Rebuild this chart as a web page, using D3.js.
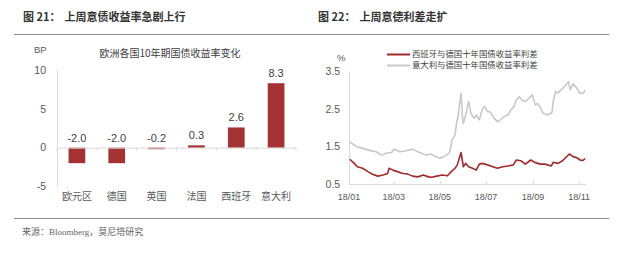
<!DOCTYPE html>
<html>
<head>
<meta charset="utf-8">
<script src="https://d3js.org/d3.v7.min.js"></script>
<style>
  body { margin: 0; background: #fff; }
  svg { display: block; }
  text { font-family: "Liberation Sans", "Noto Sans CJK SC", sans-serif; }
  .cjk { font-family: "Noto Sans CJK SC", sans-serif; }
</style>
</head>
<body>
<svg id="chart" width="620" height="260"></svg>
<script>
// Fig 21: weekly change of 10y yields (bp)
const countries = ['欧元区', '德国', '英国', '法国', '西班牙', '意大利'];
const changes = [-2.0, -2.0, -0.2, 0.3, 2.6, 8.3];
const barTicks = [-5, 0, 5, 10];

// Fig 22: spreads vs Germany (%)
const itDates = ['2018-01-02','2018-01-04','2018-01-11','2018-01-19','2018-01-29','2018-02-06','2018-02-13','2018-02-19','2018-02-26','2018-03-02','2018-03-09','2018-03-16','2018-03-26','2018-04-04','2018-04-13','2018-04-19','2018-04-26','2018-05-01','2018-05-04','2018-05-10','2018-05-14','2018-05-17','2018-05-21','2018-05-23','2018-05-25','2018-05-29','2018-05-31','2018-06-01','2018-06-04','2018-06-08','2018-06-11','2018-06-15','2018-06-18','2018-06-22','2018-06-26','2018-06-29','2018-07-03','2018-07-06','2018-07-12','2018-07-16','2018-07-20','2018-07-25','2018-07-30','2018-08-03','2018-08-07','2018-08-10','2018-08-14','2018-08-17','2018-08-22','2018-08-27','2018-08-31','2018-09-04','2018-09-07','2018-09-11','2018-09-14','2018-09-20','2018-09-26','2018-09-28','2018-10-01','2018-10-04','2018-10-08','2018-10-12','2018-10-18','2018-10-20','2018-10-24','2018-10-29','2018-11-02','2018-11-06','2018-11-09'];
const itValues = [1.63,1.59,1.50,1.45,1.39,1.36,1.27,1.32,1.34,1.43,1.36,1.38,1.43,1.34,1.27,1.30,1.23,1.19,1.21,1.27,1.34,1.67,1.81,2.12,2.30,2.92,2.25,2.12,2.34,2.70,2.39,2.25,2.34,2.21,2.48,2.57,2.43,2.43,2.25,2.16,2.21,2.30,2.34,2.48,2.57,2.74,2.83,2.74,2.70,2.79,2.88,2.61,2.65,2.52,2.39,2.34,2.40,2.74,2.97,2.92,3.01,3.08,3.23,3.01,3.17,3.05,2.92,2.92,3.00];
const esDates = ['2018-01-02','2018-01-08','2018-01-12','2018-01-19','2018-01-26','2018-02-01','2018-02-08','2018-02-15','2018-02-21','2018-02-23','2018-02-28','2018-03-06','2018-03-13','2018-03-19','2018-03-26','2018-04-02','2018-04-09','2018-04-16','2018-04-20','2018-04-27','2018-05-04','2018-05-11','2018-05-16','2018-05-21','2018-05-24','2018-05-29','2018-06-01','2018-06-04','2018-06-08','2018-06-13','2018-06-18','2018-06-22','2018-06-26','2018-07-03','2018-07-10','2018-07-16','2018-07-23','2018-07-30','2018-08-06','2018-08-10','2018-08-16','2018-08-22','2018-08-29','2018-09-04','2018-09-11','2018-09-17','2018-09-25','2018-09-28','2018-10-04','2018-10-10','2018-10-19','2018-10-24','2018-10-29','2018-11-02','2018-11-06','2018-11-09'];
const esValues = [1.16,1.05,0.96,0.92,0.83,0.76,0.71,0.74,0.78,0.92,0.87,0.83,0.78,0.77,0.71,0.69,0.74,0.69,0.68,0.71,0.74,0.72,0.83,0.92,1.01,1.34,0.96,1.05,0.96,0.92,0.87,1.03,1.05,1.01,0.96,0.92,0.96,0.98,1.01,1.14,1.12,1.03,1.14,1.07,1.03,1.03,0.98,1.08,1.05,1.12,1.30,1.23,1.20,1.14,1.13,1.18];
const spreadTicks = [0.5, 1.5, 2.5, 3.5];
const monthTicks = ['2018-01-01','2018-03-01','2018-05-01','2018-07-01','2018-09-01','2018-11-01'];
const legendNames = ['西班牙与德国十年国债收益率利差', '意大利与德国十年国债收益率利差'];

const svg = d3.select('#chart');
const parse = d3.timeParse('%Y-%m-%d');
const axisGrey = '#d9d9d9';
const labelGrey = '#595959';

// Headers and rules
svg.append('line').attr('x1', 14).attr('x2', 609).attr('y1', 34.5).attr('y2', 34.5)
  .attr('stroke', '#8c8c8c').attr('stroke-width', 1);
svg.append('line').attr('x1', 14).attr('x2', 609).attr('y1', 218.5).attr('y2', 218.5)
  .attr('stroke', '#8c8c8c').attr('stroke-width', 1);

[[23, '图 21：', '上周意债收益率急剧上行'], [318, '图 22：', '上周意德利差走扩']].forEach(h => {
  const t = svg.append('text').attr('class', 'cjk').attr('x', h[0]).attr('y', 21)
    .attr('font-size', 11).attr('font-weight', 700).attr('fill', '#333');
  t.append('tspan').text(h[1]);
  t.append('tspan').attr('dx', 4).text(h[2]);
});

svg.append('text').attr('x', 22).attr('y', 235).attr('font-size', 9).attr('fill', '#666')
  .style('font-family', '"Liberation Serif", "Noto Sans CJK SC", serif')
  .text('来源：Bloomberg，莫尼塔研究');

// ---- Left: bar chart ----
const y1 = d3.scaleLinear().domain([-5, 10]).range([186.5, 70]);
const x1 = d3.scaleBand().domain(countries).range([57, 296]).paddingInner(0.58).paddingOuter(0.29);

const g1 = svg.append('g');
g1.append('line').attr('x1', 57.5).attr('x2', 57.5).attr('y1', y1(10)).attr('y2', y1(-5))
  .attr('stroke', axisGrey);

g1.selectAll('.ytick').data(barTicks).join('text')
  .attr('x', 46).attr('y', d => y1(d)).attr('dy', '0.35em')
  .attr('text-anchor', 'end').attr('font-size', 10.5).attr('fill', labelGrey)
  .text(d => d);

g1.selectAll('rect').data(changes).join('rect')
  .attr('x', (d, i) => x1(countries[i]))
  .attr('width', x1.bandwidth())
  .attr('y', d => y1(Math.max(0, d)))
  .attr('height', d => Math.abs(y1(d) - y1(0)))
  .attr('fill', '#a33232');

g1.append('line').attr('x1', 57).attr('x2', 296).attr('y1', y1(0) + 0.5).attr('y2', y1(0) + 0.5)
  .attr('stroke', axisGrey);
g1.selectAll('.xtick').data(d3.range(countries.length + 1)).join('line')
  .attr('x1', i => 57 + i * x1.step()).attr('x2', i => 57 + i * x1.step())
  .attr('y1', y1(0)).attr('y2', y1(0) + 3).attr('stroke', axisGrey);

g1.selectAll('.val').data(changes).join('text')
  .attr('x', (d, i) => x1(countries[i]) + x1.bandwidth() / 2)
  .attr('y', d => y1(Math.max(0, d)) - 6)
  .attr('text-anchor', 'middle').attr('font-size', 11).attr('fill', '#404040')
  .text(d => d.toFixed(1));

g1.selectAll('.cat').data(countries).join('text').attr('class', 'cjk')
  .attr('x', d => x1(d) + x1.bandwidth() / 2).attr('y', 200)
  .attr('text-anchor', 'middle').attr('font-size', 10).attr('fill', labelGrey)
  .text(d => d);

g1.append('text').attr('x', 34).attr('y', 53).attr('font-size', 9.5).attr('fill', labelGrey).text('BP');
g1.append('text').attr('class', 'cjk').attr('x', 170).attr('y', 57).attr('text-anchor', 'middle')
  .attr('font-size', 10).attr('fill', '#404040').text('欧洲各国10年期国债收益率变化');

// ---- Right: spread lines ----
const x2 = d3.scaleTime().domain([parse('2018-01-01'), parse('2018-11-10')]).range([349, 586]);
const y2 = d3.scaleLinear().domain([0.5, 3.5]).range([184, 71.5]);

const g2 = svg.append('g');
g2.append('line').attr('x1', 349.5).attr('x2', 349.5).attr('y1', y2(3.5)).attr('y2', y2(0.5))
  .attr('stroke', axisGrey);
g2.append('line').attr('x1', 349).attr('x2', 586).attr('y1', y2(0.5) + 0.5).attr('y2', y2(0.5) + 0.5)
  .attr('stroke', axisGrey);

g2.selectAll('.mt').data(monthTicks).join('line')
  .attr('x1', d => x2(parse(d)) + 0.5).attr('x2', d => x2(parse(d)) + 0.5)
  .attr('y1', y2(0.5)).attr('y2', y2(0.5) - 3).attr('stroke', axisGrey);

g2.selectAll('.ml').data(monthTicks).join('text')
  .attr('x', d => x2(parse(d))).attr('y', 200)
  .attr('text-anchor', 'middle').attr('font-size', 9).attr('fill', labelGrey)
  .text(d => d3.timeFormat('%y/%m')(parse(d)));

g2.selectAll('.yl').data(spreadTicks).join('text')
  .attr('x', 340).attr('y', d => y2(d)).attr('dy', '0.35em')
  .attr('text-anchor', 'end').attr('font-size', 10.5).attr('fill', labelGrey)
  .text(d => d.toFixed(1));

g2.append('text').attr('x', 337).attr('y', 61).attr('font-size', 9.5).attr('fill', labelGrey).text('%');

const line = d3.line().x(d => x2(d[0])).y(d => y2(d[1]));
const itSeries = itDates.map((d, i) => [parse(d), itValues[i]]);
const esSeries = esDates.map((d, i) => [parse(d), esValues[i]]);

g2.append('path').datum(itSeries).attr('d', line)
  .attr('fill', 'none').attr('stroke', '#c8c8c8').attr('stroke-width', 1.6).attr('stroke-linejoin', 'round');
g2.append('path').datum(esSeries).attr('d', line)
  .attr('fill', 'none').attr('stroke', '#9e2a2b').attr('stroke-width', 1.6).attr('stroke-linejoin', 'round');

// Legend
const legColors = ['#9e2a2b', '#c8c8c8'];
legendNames.forEach((name, i) => {
  const ly = 54.5 + i * 11;
  g2.append('line').attr('x1', 387).attr('x2', 410).attr('y1', ly).attr('y2', ly)
    .attr('stroke', legColors[i]).attr('stroke-width', 2);
  g2.append('text').attr('class', 'cjk').attr('x', 412).attr('y', ly).attr('dy', '0.35em')
    .attr('font-size', 8.4).attr('fill', '#404040').text(name);
});
</script>
</body>
</html>
